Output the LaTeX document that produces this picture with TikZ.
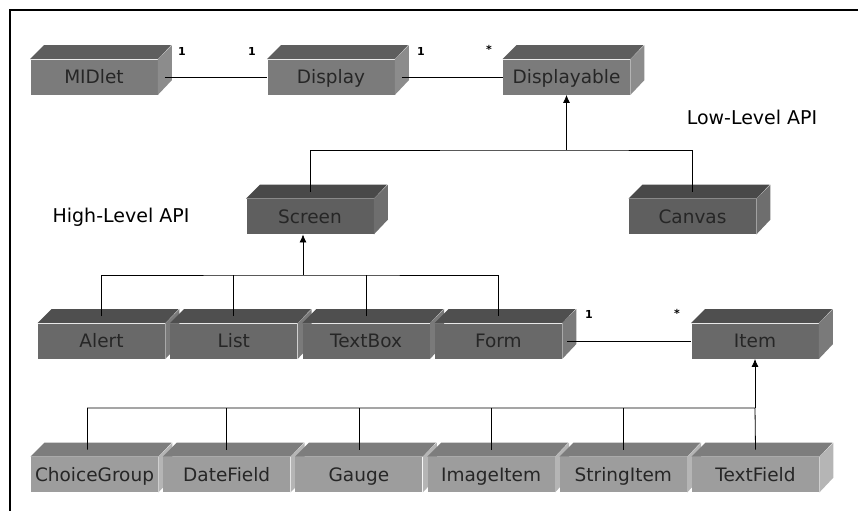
\documentclass[tikz,border=0pt]{standalone}
\usepackage{fontspec}
\setmainfont{DejaVu Sans}
\usepackage{tikz}
\usetikzlibrary{arrows.meta}

\definecolor{frontA}{HTML}{7B7B7B}
\definecolor{topA}{HTML}{5E5E5E}
\definecolor{sideA}{HTML}{8C8C8C}
\definecolor{frontB}{HTML}{5F5F5F}
\definecolor{topB}{HTML}{494949}
\definecolor{sideB}{HTML}{6E6E6E}
\definecolor{frontC}{HTML}{696969}
\definecolor{topC}{HTML}{4F4F4F}
\definecolor{sideC}{HTML}{7A7A7A}
\definecolor{frontD}{HTML}{9D9D9D}
\definecolor{topD}{HTML}{7D7D7D}
\definecolor{sideD}{HTML}{B5B5B5}

\tikzset{
    cube/.style={rectangle, inner sep=0pt, minimum width=127pt, minimum height=35pt,
        text height=16pt, text depth=3pt,
        text=black!85, font=\fontsize{18.5}{20}\selectfont},
    mult/.style={inner sep=0pt, font=\fontsize{11}{12}\selectfont\bfseries},
    apilabel/.style={inner sep=0pt, font=\fontsize{19}{22}\selectfont},
    inherit/.style={-{Latex[length=8pt,width=7pt]}},
}

% top face and side face of a box: node name, letter of its colour set
\newcommand{\cubefaces}[2]{%
    \fill[top#2] (#1.north west) -- ++(14,-14) -- ++(127,0) -- (#1.north east) -- cycle;
    \fill[side#2] (#1.north east) -- ++(14,-14) -- ++(0,35) -- (#1.south east) -- cycle;
}

\begin{document}
\begin{tikzpicture}[x=1pt, y=-1pt, line width=0.8pt]
            \useasboundingbox (0, 0) rectangle (858, 511);
            \draw[line width=2pt] (858, 10) -- (10, 10) -- (10, 511);

            % top row
            \node[cube, fill=frontA] (MIDlet) at (94, 77) {MIDlet};
            \cubefaces{MIDlet}{A}
            \node[cube, fill=frontA] (Display) at (331, 77) {Display};
            \cubefaces{Display}{A}
            \node[cube, fill=frontA] (Displayable) at (566.5, 77) {Displayable};
            \cubefaces{Displayable}{A}

            \node[cube, fill=frontB] (Screen) at (310, 216.5) {Screen};
            \cubefaces{Screen}{B}
            \node[cube, fill=frontB] (Canvas) at (692.5, 216.5) {Canvas};
            \cubefaces{Canvas}{B}

            % high-level row
            \foreach \name [count=\i from 0] in {Alert, List, TextBox, Form} {
                \node[cube, fill=frontC] (\name) at (101.5 + \i*132.3, 341) {\name};
                \cubefaces{\name}{C}
            }
            \node[cube, fill=frontC] (Item) at (755, 341) {Item};
            \cubefaces{Item}{C}

            % items
            \foreach \name [count=\i from 0] in {ChoiceGroup, DateField, Gauge, ImageItem, StringItem, TextField} {
                \node[cube, fill=frontD] (\name) at (94.5 + \i*132.2, 474.5) {\name};
                \cubefaces{\name}{D}
            }

            \node[apilabel] (lowapi) at (752, 117) {Low-Level API};
            \node[apilabel] (highapi) at (121, 217) {High-Level API};

            % associations
            \draw ([xshift=7pt]MIDlet.east) -- (Display.west);
            \draw ([xshift=7pt]Display.east) -- (Displayable.west);
            \draw ([xshift=5pt]Form.east) -- (Item.west);

            \node[mult] (m1) at (182, 51) {1};
            \node[mult] (m2) at (252, 51) {1};
            \node[mult] (m3) at (421, 51) {1};
            \node[mult] (m4) at (489, 49) {*};
            \node[mult] (m5) at (589, 314) {1};
            \node[mult] (m6) at (677, 313) {*};

            % inheritance
            \coordinate (apiA) at (Displayable.south |- 0, 150);
            \draw ([yshift=7pt]Screen.north) |- (apiA) -| ([yshift=7pt]Canvas.north);
            \draw[inherit] (apiA) -- (Displayable.south);

            \coordinate (apiB) at ([xshift=-7pt]Screen.south |- 0, 275);
            \draw ([yshift=7pt]Alert.north) |- (apiB) -| ([yshift=7pt]Form.north);
            \foreach \name in {List, TextBox} {
                \draw ([yshift=7pt]\name.north) -- (\name.north |- apiB);
            }
            \draw[inherit] (apiB) -- ([xshift=-7pt]Screen.south);

            \coordinate (apiC) at (Item.south |- 0, 408);
            \draw ([xshift=-7pt, yshift=7pt]ChoiceGroup.north) |- (apiC) -- ([yshift=7pt]TextField.north);
            \foreach \name in {DateField, Gauge, ImageItem, StringItem} {
                \draw ([yshift=7pt]\name.north) -- (\name.north |- apiC);
            }
            \draw[inherit] (apiC) -- (Item.south);
\end{tikzpicture}
\end{document}
